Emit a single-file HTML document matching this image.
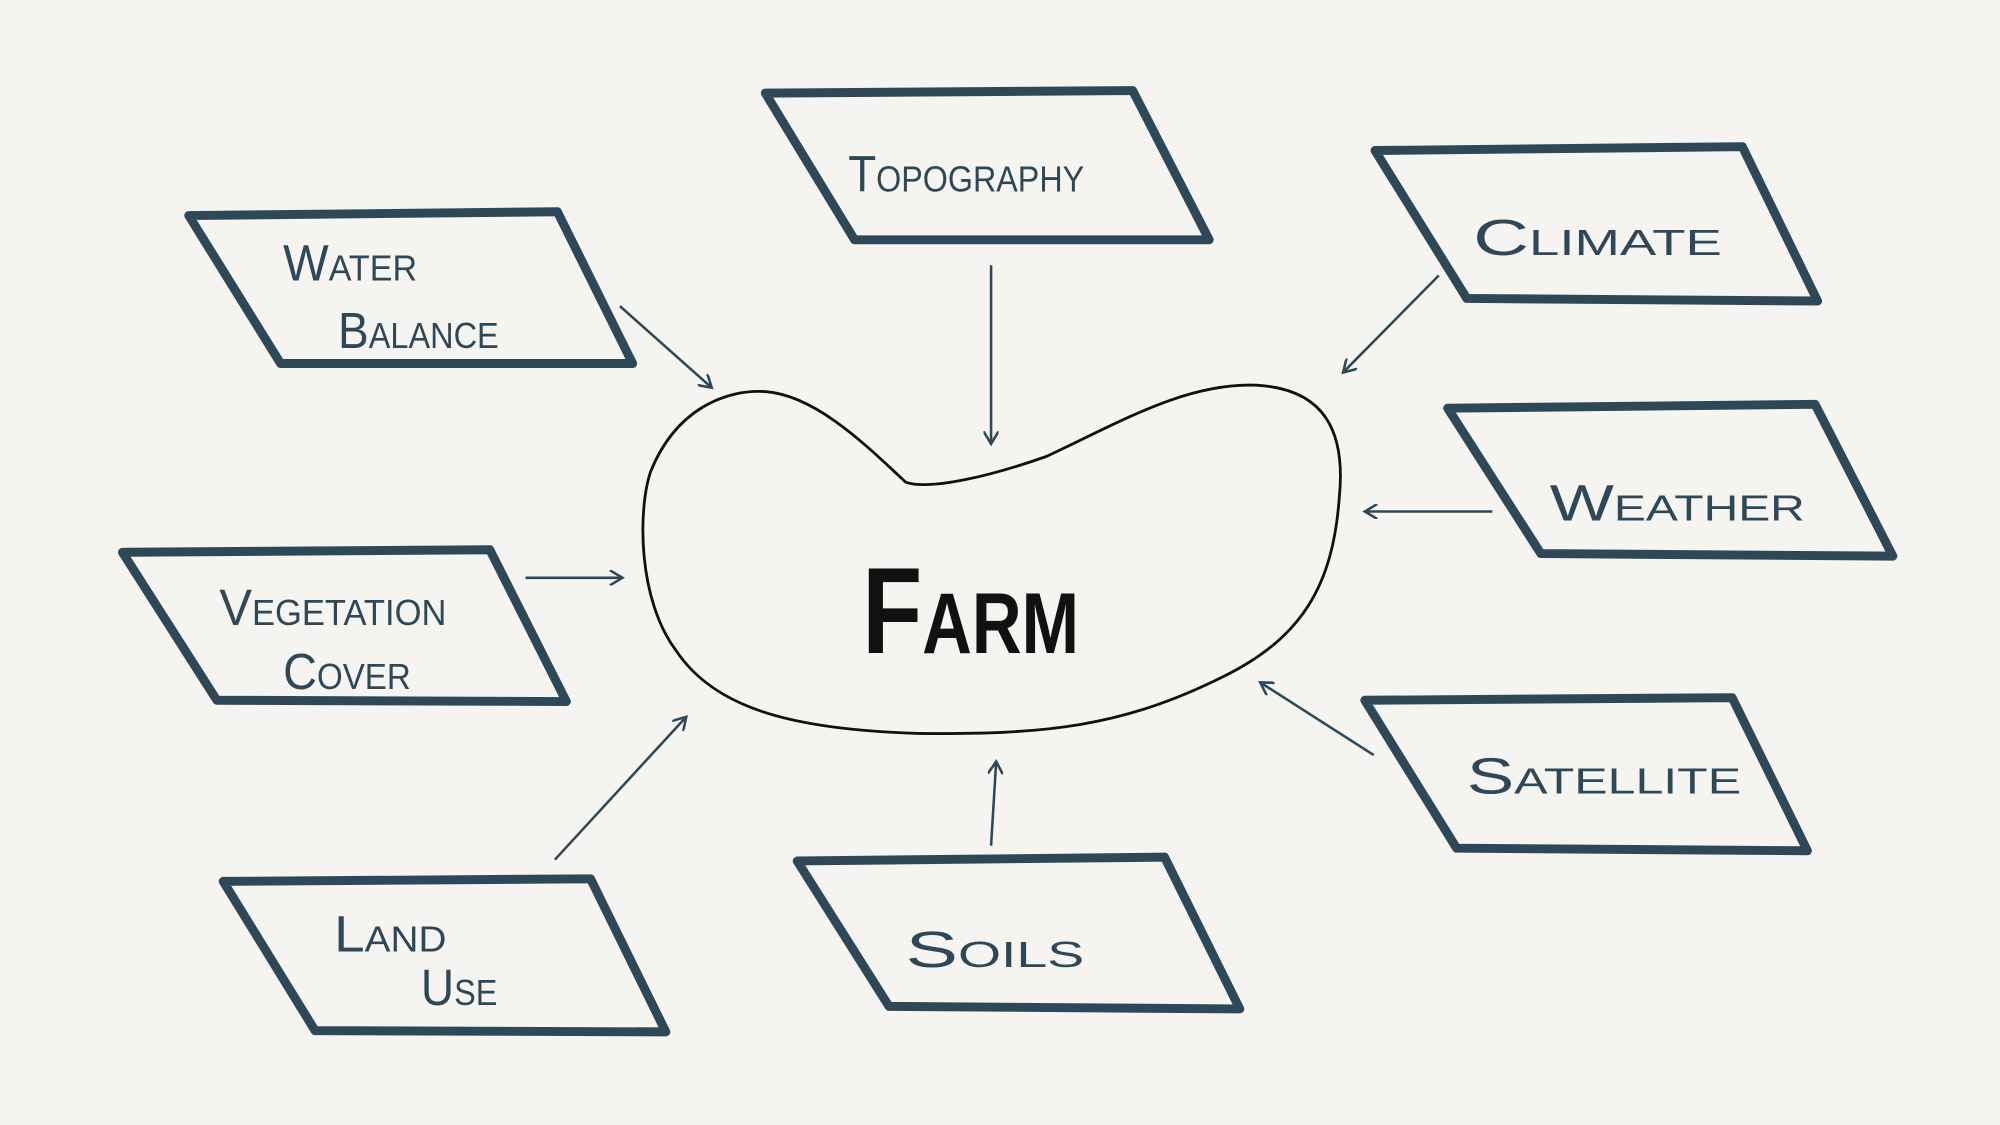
<!DOCTYPE html>
<html><head><meta charset="utf-8"><style>
html,body{margin:0;padding:0;background:#f5f4f0;}
svg{display:block;}
text{font-family:"Liberation Sans",sans-serif;font-variant:small-caps;fill:#2f4858;}
</style></head><body>
<svg width="2000" height="1125" viewBox="0 0 1568 882" xmlns="http://www.w3.org/2000/svg">
<rect width="1568" height="882" fill="#f5f4f0"/>
<defs><marker id="a" markerWidth="12" markerHeight="12" refX="10" refY="6" orient="auto" markerUnits="userSpaceOnUse"><path d="M0,0 L10,6 L0,12" fill="none" stroke="#2f4858" stroke-width="2"/></marker></defs>
<g fill="none" stroke="#2f4858" stroke-width="7" stroke-linejoin="round" stroke-linecap="round">
<polygon points="600,73 888,71 948,188 670,188"/>
<polygon points="148,169 437,166 496,285 220,285"/>
<polygon points="1078,118 1366,115 1425,236 1150,234"/>
<polygon points="1135,320 1423,317 1484,436 1208,434"/>
<polygon points="96,433 384,431 444,550 170,549"/>
<polygon points="1070,549 1358,547 1417,667 1142,665"/>
<polygon points="175,691 463,689 522,809 247,808"/>
<polygon points="625,675 913,672 972,791 697,789"/>
</g>
<g stroke="#2f4858" stroke-width="2" fill="none" marker-end="url(#a)">
<line x1="486" y1="240" x2="558" y2="304"/>
<line x1="777" y1="208" x2="777" y2="348"/>
<line x1="1128" y1="216" x2="1053" y2="292"/>
<line x1="1170" y1="401" x2="1070" y2="401"/>
<line x1="412" y1="453" x2="488" y2="453"/>
<line x1="435" y1="674" x2="538" y2="562"/>
<line x1="777" y1="663" x2="781" y2="597"/>
<line x1="1077" y1="592" x2="988" y2="535"/>
</g>
<path d="M600,307 C640,310 680,350 710,378 C730,385 780,372 820,358 C880,330 930,300 985,302 C1040,305 1055,340 1050,390 C1045,460 1020,500 960,530 C880,570 820,576 720,575 C620,572 560,555 530,510 C500,470 500,400 510,370 C530,320 570,305 600,307 Z" fill="none" stroke="#111" stroke-width="2.2"/>
<text x="676" y="512" font-size="96" font-weight="bold" style="fill:#111" textLength="170" lengthAdjust="spacingAndGlyphs">Farm</text>
<g font-size="40">
<text x="665" y="150" textLength="185" lengthAdjust="spacingAndGlyphs">Topography</text>
<text x="222" y="220" textLength="105" lengthAdjust="spacingAndGlyphs">Water</text>
<text x="265" y="273" textLength="126" lengthAdjust="spacingAndGlyphs">Balance</text>
<text x="1155" y="200" textLength="195" lengthAdjust="spacingAndGlyphs">Climate</text>
<text x="1215" y="408" textLength="200" lengthAdjust="spacingAndGlyphs">Weather</text>
<text x="172" y="490" textLength="178" lengthAdjust="spacingAndGlyphs">Vegetation</text>
<text x="222" y="540" textLength="100" lengthAdjust="spacingAndGlyphs">Cover</text>
<text x="1150" y="622" textLength="215" lengthAdjust="spacingAndGlyphs">Satellite</text>
<text x="262" y="746" textLength="88" lengthAdjust="spacingAndGlyphs">Land</text>
<text x="330" y="788" textLength="60" lengthAdjust="spacingAndGlyphs">Use</text>
<text x="710" y="758" textLength="140" lengthAdjust="spacingAndGlyphs">Soils</text>
</g>
</svg>
</body></html>
